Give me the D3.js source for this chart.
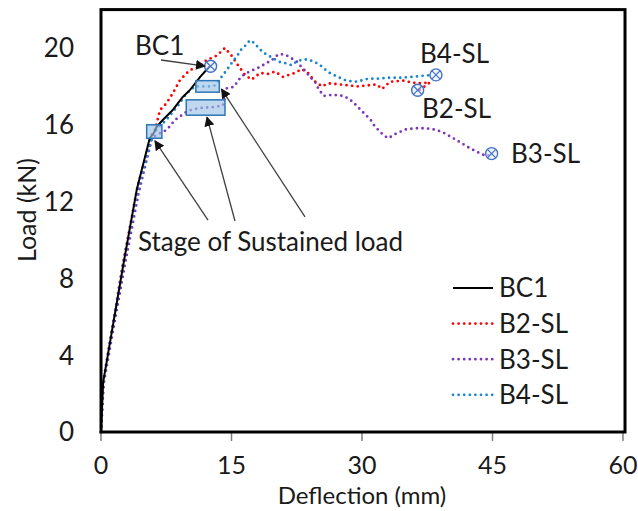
<!DOCTYPE html>
<html><head><meta charset="utf-8">
<script src="https://cdn.jsdelivr.net/npm/d3@7"></script>
<style>html,body{margin:0;padding:0;background:#fff;} svg{display:block;}</style>
</head><body>
<script>
// ---------- data ----------
const xTicks = [0, 15, 30, 45, 60];
const yTicks = [0, 4, 8, 12, 16, 20];
const seriesNames = ["BC1", "B2-SL", "B3-SL", "B4-SL"];

const bc1X = [0, 0.25, 2.6, 4.1, 5.6, 6.1, 6.4, 7.1, 8.3, 9.4, 10.2, 11.4, 12.5];
const bc1Y = [0, 2.6, 8.8, 12.6, 15.3, 15.6, 15.9, 16.25, 16.8, 17.45, 17.8, 18.5, 19.05];

const b2X = [0, 0.3, 2.5, 4.2, 5.86, 6.2, 6.78, 7.5, 8.28, 9.08, 10.2, 11.2, 12.15, 13.3, 14.25, 15.0, 15.75, 16.55, 17.3, 18.3, 19.2, 20.0, 20.9, 22.3, 23.07, 23.8, 24.6, 25.4, 26.1, 27.5, 29.4, 31.7, 32.3, 33.2, 34.7, 36.3, 37.8, 36.6];
const b2Y = [0, 2.7, 8.7, 12.8, 15.5, 15.7, 16.77, 17.1, 17.66, 18.33, 18.85, 19.0, 19.375, 19.6, 20.0, 19.6, 19.1, 18.6, 18.35, 18.7, 18.65, 18.77, 18.5, 18.7, 18.9, 18.7, 18.25, 18.0, 18.16, 18.1, 18.0, 18.1, 17.86, 18.24, 18.3, 18.16, 18.2, 17.8];

const b3X = [0, 0.3, 2.7, 4.3, 5.86, 6.5, 7.55, 8.5, 9.28, 9.9, 10.5, 11.2, 11.9, 12.6, 13.3, 14.0, 14.45, 15.3, 15.67, 16.1, 16.75, 17.7, 18.36, 19.05, 19.6, 20.0, 20.57, 21.23, 21.9, 22.5, 22.95, 23.45, 24.0, 24.6, 24.86, 25.17, 25.6, 26.3, 27.1, 27.85, 28.4, 28.93, 29.4, 29.97, 30.46, 31.0, 31.5, 32.45, 33.0, 34.0, 35.1, 36.3, 37.4, 38.6, 39.5, 40.5, 41.46, 42.4, 43.4, 44.3, 44.9];
const b3Y = [0, 2.5, 8.6, 12.4, 15.3, 15.5, 15.73, 16.25, 16.5, 16.7, 16.8, 16.85, 16.9, 16.9, 16.95, 17.0, 17.9, 17.98, 18.24, 18.5, 18.7, 18.9, 19.03, 19.23, 19.34, 19.55, 19.69, 19.64, 19.46, 19.29, 19.06, 18.82, 18.5, 18.24, 17.98, 17.76, 17.5, 17.55, 17.55, 17.5, 17.38, 17.2, 16.98, 16.72, 16.5, 16.25, 15.9, 15.47, 15.3, 15.56, 15.77, 15.82, 15.82, 15.73, 15.56, 15.3, 15.04, 14.78, 14.55, 14.37, 14.5];

const b4X = [0, 0.25, 2.6, 4.2, 5.9, 6.3, 7.6, 8.85, 9.85, 10.8, 11.3, 11.9, 12.5, 13.1, 13.45, 13.87, 14.45, 15.0, 15.6, 16.2, 16.7, 17.1, 17.7, 18.1, 18.66, 19.35, 19.8, 20.6, 21.3, 21.9, 22.5, 23.2, 23.8, 24.6, 25.2, 25.7, 26.3, 27.0, 27.7, 28.2, 29.0, 29.6, 30.3, 31.1, 31.9, 32.9, 34.4, 35.8, 37.0, 38.2];
const b4Y = [0, 2.6, 8.9, 12.6, 15.4, 15.7, 16.3, 17.0, 17.64, 18.0, 18.0, 18.0, 18.0, 18.05, 18.25, 18.5, 18.85, 19.2, 19.55, 19.98, 20.16, 20.4, 20.24, 20.0, 19.76, 19.58, 19.46, 19.26, 19.2, 19.1, 19.3, 19.4, 19.4, 19.26, 19.1, 18.9, 18.7, 18.54, 18.4, 18.3, 18.25, 18.25, 18.37, 18.4, 18.4, 18.45, 18.45, 18.5, 18.55, 18.6];

// failure points (end markers)
const failX = [12.6, 36.4, 44.9, 38.5];
const failY = [19.05, 17.8, 14.5, 18.6];

// sustained-load stages (deflection range, load range)
const stageX0 = [5.25, 9.8, 10.9];
const stageX1 = [7.0, 14.25, 13.6];
const stageY0 = [15.3, 16.5, 17.7];
const stageY1 = [16.0, 17.3, 18.3];

// ---------- layout ----------
const W = 638, H = 511;
const left = 101, right = 623, bottom = 432;
const x = d3.scaleLinear().domain([0, 60]).range([left, right]);
const y = d3.scaleLinear().domain([0, 20]).range([bottom, 48]);
const yTop = y(22);
const font = "Lato, 'Open Sans', sans-serif";
const fs = 26;
const colors = ["#000000", "#ff0000", "#7b35b8", "#1a86d0"];

const svg = d3.select("body").append("svg").attr("width", W).attr("height", H)
  .style("font-family", font);

// x ticks
svg.append("g").selectAll("line").data(xTicks).join("line")
  .attr("x1", d => x(d)).attr("x2", d => x(d))
  .attr("y1", bottom).attr("y2", bottom + 9)
  .attr("stroke", "#7f7f7f").attr("stroke-width", 1.5);

svg.append("g").selectAll("text").data(xTicks).join("text")
  .attr("x", d => x(d)).attr("y", 474)
  .attr("text-anchor", "middle").attr("font-size", 25).attr("fill", "#1a1a1a")
  .text(d => d);

svg.append("g").selectAll("text").data(yTicks).join("text")
  .attr("x", 74).attr("y", d => y(d)).attr("dy", "0.36em")
  .attr("text-anchor", "end").attr("font-size", fs).attr("fill", "#1a1a1a")
  .text(d => d);

svg.append("text").attr("x", 362).attr("y", 504).attr("text-anchor", "middle")
  .attr("font-size", 24).attr("fill", "#1a1a1a").text("Deflection (mm)");
svg.append("text").attr("transform", "translate(36,210) rotate(-90)")
  .attr("text-anchor", "middle").attr("font-size", 25).attr("fill", "#1a1a1a").text("Load (kN)");

// series
const allX = [bc1X, b2X, b3X, b4X];
const allY = [bc1Y, b2Y, b3Y, b4Y];
const line = d3.line().x(d => x(d[0])).y(d => y(d[1]));
const drawOrder = [1, 2, 3, 0];
drawOrder.forEach(i => {
  const pts = allX[i].map((v, k) => [v, allY[i][k]]);
  const p = svg.append("path").attr("d", line(pts)).attr("fill", "none")
    .attr("stroke", colors[i]).attr("stroke-linejoin", "round");
  if (i === 0) p.attr("stroke-width", 2);
  else p.attr("stroke-width", 2.8).attr("stroke-dasharray", "0 5.6").attr("stroke-linecap", "round");
});

// sustained-load boxes
svg.append("g").selectAll("rect").data(stageX0).join("rect")
  .attr("x", (d, i) => x(d)).attr("y", (d, i) => y(stageY1[i]))
  .attr("width", (d, i) => x(stageX1[i]) - x(d))
  .attr("height", (d, i) => y(stageY0[i]) - y(stageY1[i]))
  .attr("fill", "#9dc3e6").attr("fill-opacity", 0.65)
  .attr("stroke", "#2e75b6").attr("stroke-width", 1.5);

// failure markers
const mk = svg.append("g").selectAll("g").data(failX).join("g")
  .attr("transform", (d, i) => `translate(${x(d)},${y(failY[i])})`);
mk.append("circle").attr("r", 6).attr("fill", "#e8eef8").attr("fill-opacity", 0.6)
  .attr("stroke", "#4472c4").attr("stroke-width", 1.4);
mk.append("path").attr("d", "M-4.2,-4.2L4.2,4.2M-4.2,4.2L4.2,-4.2")
  .attr("stroke", "#4472c4").attr("stroke-width", 1.2);

// arrows
const defs = svg.append("defs");
defs.append("marker").attr("id", "ah").attr("viewBox", "0 0 10 10")
  .attr("refX", 9).attr("refY", 5).attr("markerWidth", 10).attr("markerHeight", 10)
  .attr("markerUnits", "userSpaceOnUse").attr("orient", "auto")
  .append("path").attr("d", "M0,0L10,5L0,10Z").attr("fill", "#111");
const arrTx = [6.9, 12.3, 15.4, 23.45];
const arrTy = [19.375, 11.04, 10.99, 11.2];
const arrHx = [11.95, 6.2, 12.18, 13.85];
const arrHy = [19.06, 15.16, 16.4, 17.86];
svg.append("g").selectAll("line").data(arrTx).join("line")
  .attr("x1", d => x(d)).attr("y1", (d, i) => y(arrTy[i]))
  .attr("x2", (d, i) => x(arrHx[i])).attr("y2", (d, i) => y(arrHy[i]))
  .attr("stroke", "#404040").attr("stroke-width", 1.3).attr("marker-end", "url(#ah)");

// annotation labels
const ann = [
  {t: "BC1", px: 135, py: 55},
  {t: "Stage of Sustained load", px: 138, py: 251},
  {t: "B4-SL", px: 420, py: 63},
  {t: "B2-SL", px: 422, py: 118},
  {t: "B3-SL", px: 511, py: 163}
];
svg.append("g").selectAll("text").data(ann).join("text")
  .attr("x", d => d.px).attr("y", d => d.py).attr("font-size", fs).attr("fill", "#1a1a1a")
  .text(d => d.t);

// frame
svg.append("rect").attr("x", left).attr("y", yTop).attr("width", right - left + 2)
  .attr("height", bottom - yTop).attr("fill", "none").attr("stroke", "#000").attr("stroke-width", 3);

// legend
const lg = svg.append("g").selectAll("g").data(seriesNames).join("g")
  .attr("transform", (d, i) => `translate(453,${288 + i * 35.6})`);
lg.append("line").attr("x1", 0).attr("x2", 40).attr("y1", 0).attr("y2", 0)
  .attr("stroke", (d, i) => colors[i])
  .attr("stroke-width", (d, i) => i === 0 ? 2 : 2.8)
  .attr("stroke-dasharray", (d, i) => i === 0 ? null : "0 5.6")
  .attr("stroke-linecap", (d, i) => i === 0 ? "butt" : "round");
lg.append("text").attr("x", 46).attr("y", 0).attr("dy", "0.36em")
  .attr("font-size", fs).attr("fill", "#1a1a1a").text(d => d);
</script>
</body></html>
